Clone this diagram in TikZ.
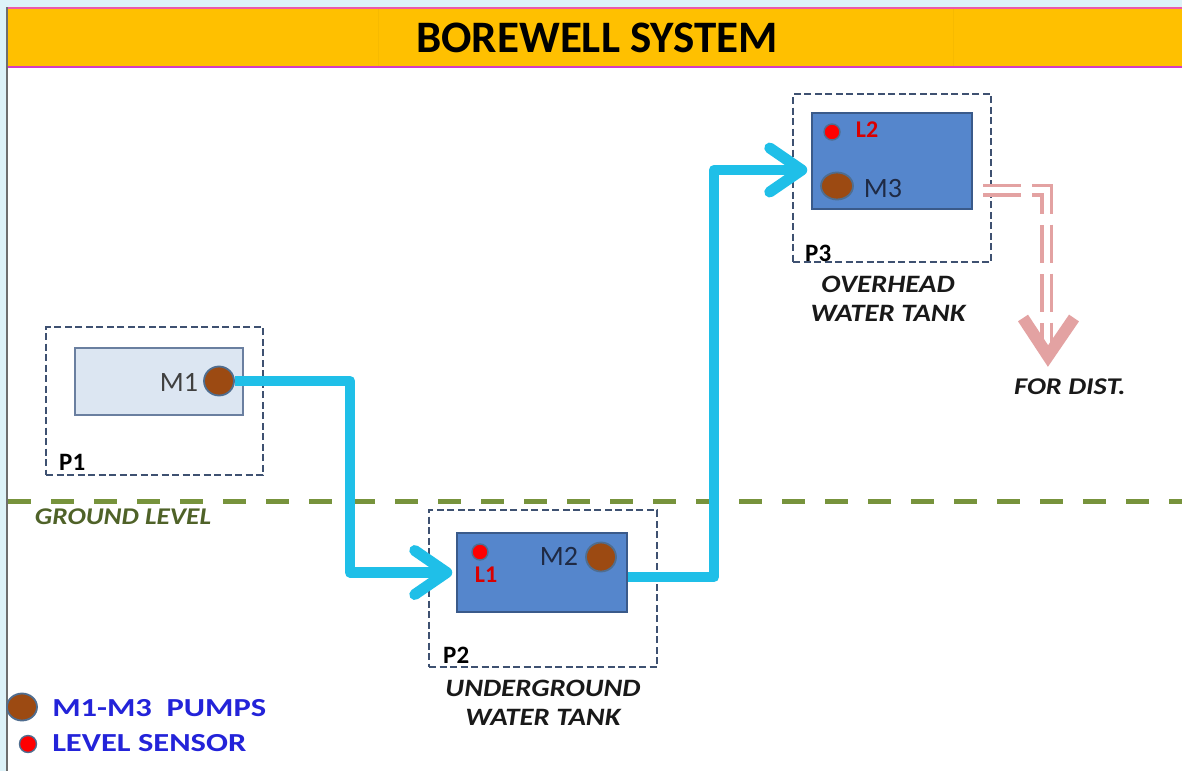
\documentclass[tikz,border=0pt]{standalone}
\usepackage{fontspec}
\setmainfont{Carlito}
\usetikzlibrary{arrows.meta,shapes.geometric}
\definecolor{bgcyan}{HTML}{DDF2F8}
\definecolor{titlebar}{HTML}{FFC000}
\definecolor{pinkedge}{HTML}{EC5AA8}
\definecolor{magedge}{HTML}{D43CC4}
\definecolor{greyedge}{HTML}{6E6E6E}
\definecolor{boxdash}{HTML}{3E5171}
\definecolor{lightfill}{HTML}{DCE6F2}
\definecolor{lightedge}{HTML}{6A7FA0}
\definecolor{tankfill}{HTML}{5586CC}
\definecolor{tankedge}{HTML}{3A5A8A}
\definecolor{pumpbrown}{HTML}{9C4A12}
\definecolor{circedge}{HTML}{4F6D8F}
\definecolor{pipecyan}{HTML}{1FBFE8}
\definecolor{distpink}{HTML}{E3A2A2}
\definecolor{groundgreen}{HTML}{77933C}
\definecolor{groundtext}{HTML}{4F6228}
\definecolor{legendblue}{HTML}{2323D9}
\definecolor{mgrey}{HTML}{404040}
\definecolor{mnavy}{HTML}{1F2A44}
\begin{document}
\begin{tikzpicture}[x=1pt,y=-1pt,
  dashbox/.style={draw=boxdash,line width=2.1pt,dash pattern=on 7pt off 3.5pt,inner sep=0pt},
  lighttank/.style={draw=lightedge,fill=lightfill,line width=1.8pt,inner sep=0pt},
  bluetank/.style={draw=tankedge,fill=tankfill,line width=1.5pt,inner sep=0pt},
  pump/.style={ellipse,draw=circedge,fill=pumpbrown,line width=1.8pt,inner sep=0pt},
  sensor/.style={circle,draw=circedge,fill=red,line width=1.4pt,inner sep=0pt,minimum size=16pt},
  pipe/.style={draw=pipecyan,line width=10.5pt,line join=round,
    -{Straight Barb[length=32pt,width=44pt,line width=11pt,round]}},
  mlabel/.style={font=\fontsize{28}{30}\selectfont,inner sep=0pt},
  llabel/.style={font=\bfseries\fontsize{24}{25}\selectfont,text=red!85!black,inner sep=0pt},
  plabel/.style={font=\bfseries\fontsize{25}{26}\selectfont,inner sep=0pt,anchor=west},
  tanklabel/.style={font=\bfseries\itshape\fontsize{25}{29}\selectfont,text=black!90,
    align=center,inner sep=0pt,xscale=1.15},
  legendtext/.style={font=\bfseries\fontsize{26}{28}\selectfont,text=legendblue,
    inner sep=0pt,anchor=west,xscale=1.25},
  dist/.style={draw=distpink,line width=3.5pt,double=white,double distance=6pt,
    dash pattern=on 38pt off 11pt,line join=miter},
  disthead/.style={draw=distpink,line width=12pt,line join=miter}
]
\useasboundingbox (0,0) rectangle (1182,771);
% frame
\fill[bgcyan] (0,0) rectangle (1182,771);
\fill[white] (7,68) rectangle (1182,771);
\fill[titlebar] (7,7) rectangle (1182,68);
\draw[titlebar!92!black,line width=0.6pt,opacity=0.4] (378,9) -- (378,66) (953,9) -- (953,66);
\draw[pinkedge,line width=2pt] (7,8) -- (1182,8);
\draw[magedge,line width=2.5pt] (7,67) -- (1182,67);
\draw[greyedge,line width=2pt] (7,7) -- (7,771);
\node[font=\bfseries\fontsize{45}{48}\selectfont,inner sep=0pt] (title) at (597,38) {BOREWELL SYSTEM};

% ground level
\coordinate (g0) at (8,501);
\coordinate (g1) at (1182,501);
\draw[groundgreen,line width=5pt,dash pattern=on 23pt off 20pt] (g0) -- (g1);
\node[font=\bfseries\itshape\fontsize{24}{25}\selectfont,text=groundtext,inner sep=0pt,xscale=1.14] (gl) at (123,517) {GROUND LEVEL};

% P1
\node[dashbox,minimum width=217pt,minimum height=148pt] (b1) at (154.5,401) {};
\node[lighttank,minimum width=168pt,minimum height=67pt] (t1) at (159,381.5) {};
\node[pump,minimum width=30pt,minimum height=29pt] (m1) at (219,381) {};
\node[mlabel,text=mgrey] (m1t) at (179,382) {M1};
\node[plabel] (p1) at (59,462) {P1};

% P2
\node[dashbox,line width=1.7pt,minimum width=228pt,minimum height=157pt] (b2) at (543,588.5) {};
\node[bluetank,minimum width=170pt,minimum height=79pt] (t2) at (542,572.5) {};
\node[sensor] (l1) at (480,552) {};
\node[llabel] (l1t) at (486,575) {L1};
\node[pump,minimum width=30pt,minimum height=29pt] (m2) at (601,557) {};
\node[mlabel,text=mnavy] (m2t) at (559,556) {M2};
\node[plabel] (p2) at (443,655) {P2};
\node[tanklabel] (u2) at (543,703) {UNDERGROUND\\WATER TANK};

% P3
\node[dashbox,minimum width=198pt,minimum height=168pt] (b3) at (892,178) {};
\node[bluetank,minimum width=160pt,minimum height=96pt] (t3) at (892,161) {};
\node[sensor] (l2) at (832,132) {};
\node[llabel] (l2t) at (867,130) {L2};
\node[pump,minimum width=32pt,minimum height=27pt] (m3) at (837,186) {};
\node[mlabel,text=mnavy] (m3t) at (883,189) {M3};
\node[plabel] (p3) at (805,253) {P3};
\node[tanklabel] (o3) at (888,299) {OVERHEAD\\WATER TANK};

% pipes
\draw[pipe] (m1.east) -- (350,381) |- ([xshift=-4pt]t2.west);
\draw[pipe] ([yshift=-4.5pt]t2.east) -- (714,577) |- ([xshift=-4pt,yshift=-9pt]t3.west);

% distribution
\coordinate (dstart) at (983,190);
\coordinate (dcorner) at (1046.5,190);
\coordinate (dend) at (1046.5,354);
\coordinate (dtip) at (1048,356);
\coordinate (darmL) at (1023,318);
\coordinate (darmR) at (1074,318);
\draw[dist] (dstart) -- (dcorner) -- (dend);
\draw[disthead] (darmL) -- (dtip) -- (darmR);
\node[font=\bfseries\itshape\fontsize{24}{26}\selectfont,text=black!90,inner sep=0pt,xscale=1.18] (fd) at (1070,387) {FOR DIST.};

% legend
\node[pump,minimum width=30pt,minimum height=27pt] (lp) at (22,707) {};
\node[legendtext] (lpt) at (52,708) {M1-M3\ \ PUMPS};
\node[sensor,minimum size=17pt] (ls) at (28,744) {};
\node[legendtext] (lst) at (52,743) {LEVEL SENSOR};
\end{tikzpicture}
\end{document}
